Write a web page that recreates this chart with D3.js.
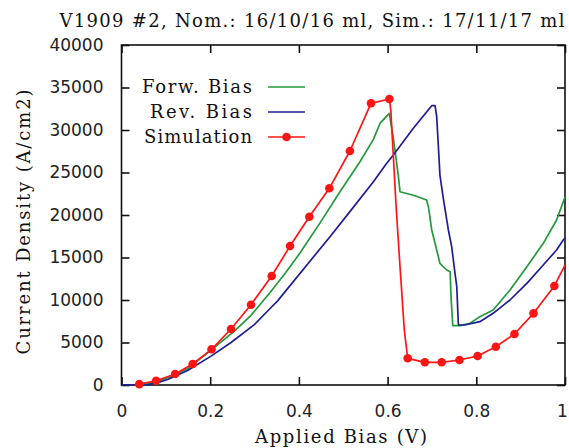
<!DOCTYPE html>
<html><head><meta charset="utf-8">
<script src="https://cdn.jsdelivr.net/npm/d3@7"></script>
<style>
html,body{margin:0;padding:0;background:#fff;}
svg{display:block;}
</style></head>
<body>
<svg id="chart" width="569" height="448"></svg>
<script>
// ---- data ----
const titleText = "V1909 #2, Nom.: 16/10/16 ml, Sim.: 17/11/17 ml";
const xLabel = "Applied Bias (V)";
const yLabel = "Current Density (A/cm2)";
const seriesNames = ["Forw. Bias", "Rev. Bias", "Simulation"];
const xTicks = [0, 0.2, 0.4, 0.6, 0.8, 1];
const xTickLabels = ["0", "0.2", "0.4", "0.6", "0.8", "1"];
const yTicks = [0, 5000, 10000, 15000, 20000, 25000, 30000, 35000, 40000];
const yTickLabels = ["0", "5000", "10000", "15000", "20000", "25000", "30000", "35000", "40000"];

const forwV = [0.04, 0.074, 0.112, 0.149, 0.202, 0.254, 0.292, 0.335, 0.37, 0.402, 0.448, 0.4926, 0.538, 0.568, 0.583, 0.604,
  0.608, 0.613, 0.617, 0.624, 0.628, 0.66, 0.688, 0.692, 0.6995, 0.707, 0.718, 0.733, 0.741, 0.743, 0.747,
  0.763, 0.786, 0.808, 0.838, 0.876, 0.914, 0.951, 0.981, 1.0];
const forwJ = [0, 300, 1000, 1900, 4100, 6300, 8200, 10880, 13200, 15500, 19100, 22740, 26300, 28900, 30800, 31960,
  30600, 29020, 27450, 24700, 22740, 22300, 21760, 20980, 18240, 16670, 14310, 13530, 13330, 10390, 6980,
  6980, 7260, 8040, 8820, 11180, 13920, 16670, 19410, 22120];

const revV = [0, 0.055, 0.08, 0.104, 0.149, 0.2018, 0.247, 0.2995, 0.335, 0.352, 0.4701, 0.515, 0.568, 0.598, 0.613, 0.658,
  0.6995, 0.707, 0.7107, 0.7143, 0.718, 0.7256, 0.737, 0.7445, 0.752, 0.756, 0.7594, 0.76,
  0.774, 0.808, 0.838, 0.876, 0.914, 0.951, 0.981, 0.996, 1.0];
const revJ = [0, 0, 250, 650, 1700, 3400, 5000, 7100, 9000, 9900, 17450, 20400, 23920, 26080, 27060, 30200,
  32860, 32860, 31570, 28240, 24700, 21960, 18240, 16270, 13140, 11570, 7260, 7060,
  7060, 7450, 8430, 10000, 11960, 14120, 15880, 17060, 17300];

const simV = [0.04, 0.078, 0.121, 0.1605, 0.203, 0.247, 0.292, 0.3387, 0.38, 0.4235, 0.4686, 0.515, 0.5626, 0.604,
  0.6072, 0.619, 0.628, 0.6377,
  0.6453, 0.684, 0.722, 0.762, 0.803, 0.844, 0.886, 0.929, 0.976, 1.0];
const simJ = [100, 500, 1290, 2470, 4200, 6590, 9450, 12820, 16350, 19800, 23140, 27530, 33140, 33650,
  32350, 21180, 13920, 6470,
  3140, 2670, 2670, 2940, 3410, 4500, 6000, 8430, 11650, 14100];
const simMarked = [1,1,1,1,1,1,1,1,1,1,1,1,1,1, 0,0,0,0, 1,1,1,1,1,1,1,1,1,0];

const colors = ["#23993b", "#1f1d96", "#ff1414"];

// ---- chart ----
const svg = d3.select("#chart");
const L = 121.5, R = 565, T = 45, B = 385;
const x = d3.scaleLinear().domain([0, 1]).range([L, R]);
const y = d3.scaleLinear().domain([0, 40000]).range([B, T]);

const sansFont = "DejaVu Sans, sans-serif";
const serifFont = "DejaVu Serif, serif";

// title
svg.append("text").attr("x", 312).attr("y", 27).attr("text-anchor", "middle")
  .attr("font-family", serifFont).attr("font-size", 18).attr("fill", "#111")
  .attr("textLength", 505).attr("lengthAdjust", "spacing").text(titleText);

// axes with inward ticks
const fmtX = d => xTickLabels[xTicks.indexOf(d)];
const fmtY = d => yTickLabels[yTicks.indexOf(d)];

const gx = svg.append("g").attr("transform", `translate(0,${B})`)
  .call(d3.axisBottom(x).tickValues(xTicks).tickFormat(fmtX).tickSize(-8).tickPadding(20));
const gxt = svg.append("g").attr("transform", `translate(0,${T})`)
  .call(d3.axisTop(x).tickValues(xTicks).tickFormat("").tickSize(-8));
const gy = svg.append("g").attr("transform", `translate(${L},0)`)
  .call(d3.axisLeft(y).tickValues(yTicks).tickFormat(fmtY).tickSize(-8).tickPadding(18));
const gyr = svg.append("g").attr("transform", `translate(${R},0)`)
  .call(d3.axisRight(y).tickValues(yTicks).tickFormat("").tickSize(-8));

[gx, gxt, gy, gyr].forEach(g => {
  g.select(".domain").remove();
  g.selectAll(".tick line").attr("stroke", "#111").attr("stroke-width", 1.6);
  g.selectAll(".tick text").attr("font-family", sansFont).attr("font-size", 17).attr("fill", "#222");
});
// keep the last x label inside the window
gx.selectAll(".tick text").filter(d => d === 1).attr("dx", -3);

// frame
svg.append("rect").attr("x", L).attr("y", T).attr("width", R - L).attr("height", B - T)
  .attr("fill", "none").attr("stroke", "#111").attr("stroke-width", 1.6);

// axis labels
svg.append("text").attr("x", 341).attr("y", 443).attr("text-anchor", "middle")
  .attr("font-family", serifFont).attr("font-size", 18).attr("fill", "#111")
  .attr("textLength", 172).attr("lengthAdjust", "spacing").text(xLabel);
svg.append("text").attr("transform", "translate(30,222) rotate(-90)").attr("text-anchor", "middle")
  .attr("font-family", serifFont).attr("font-size", 18).attr("fill", "#111")
  .attr("textLength", 265).attr("lengthAdjust", "spacing").text(yLabel);

// lines
const line = d3.line().x(d => x(d[0])).y(d => y(d[1]));
const forw = forwV.map((v, i) => [v, forwJ[i]]);
const rev = revV.map((v, i) => [v, revJ[i]]);
const sim = simV.map((v, i) => [v, simJ[i]]);

const plot = svg.append("g");
[forw, rev, sim].forEach((data, i) => {
  plot.append("path").datum(data).attr("d", line).attr("fill", "none")
    .attr("stroke", colors[i]).attr("stroke-width", 1.7).attr("stroke-linejoin", "round");
});
plot.selectAll("circle.sim").data(sim.filter((d, i) => simMarked[i]))
  .enter().append("circle").attr("class", "sim")
  .attr("cx", d => x(d[0])).attr("cy", d => y(d[1])).attr("r", 4.3).attr("fill", colors[2]);

// legend
const legendY = [87, 112, 137];
const legendW = [110, 102, 108];
seriesNames.forEach((name, i) => {
  svg.append("text").attr("x", 252).attr("y", legendY[i] + 6).attr("text-anchor", "end")
    .attr("font-family", serifFont).attr("font-size", 18).attr("fill", "#111")
    .attr("textLength", legendW[i]).attr("lengthAdjust", "spacing").text(name);
  svg.append("line").attr("x1", 268).attr("x2", 305).attr("y1", legendY[i]).attr("y2", legendY[i])
    .attr("stroke", colors[i]).attr("stroke-width", 1.7);
  if (i === 2) {
    svg.append("circle").attr("cx", 286.5).attr("cy", legendY[i]).attr("r", 4.3).attr("fill", colors[i]);
  }
});
</script>
</body></html>
